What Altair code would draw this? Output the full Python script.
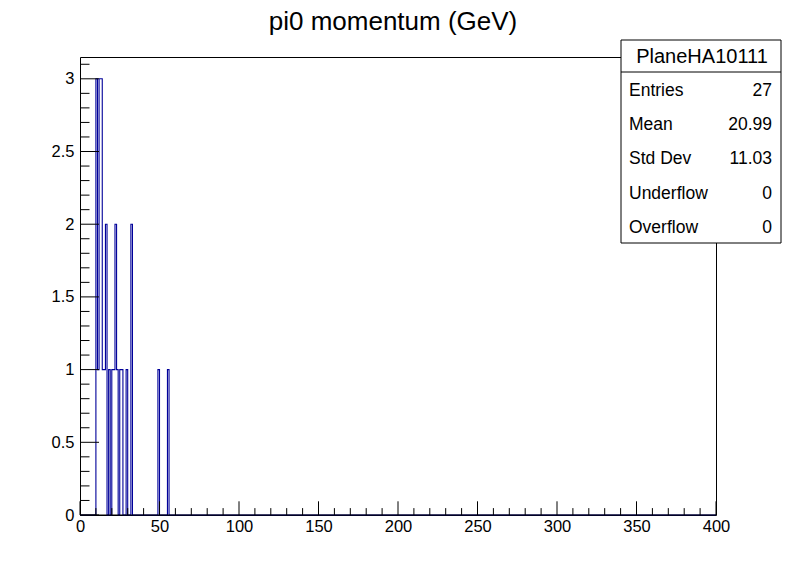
import altair as alt
import pandas as pd

# ---- data ----
title_text = "pi0 momentum (GeV)"
bin_left_edges = [10, 11, 12, 13, 14, 15, 16, 18, 20, 21, 22, 23, 25, 26, 29, 32, 49, 55]
bin_counts = [3, 1, 3, 3, 1, 1, 2, 1, 1, 1, 2, 1, 1, 1, 1, 2, 1, 1]
n_bins = 400
x_min, x_max = 0, 400
y_max = 3.15
x_major = [0, 50, 100, 150, 200, 250, 300, 350, 400]
x_minor = [v for v in range(0, 401, 10) if v % 50 != 0]
y_major = [0, 0.5, 1, 1.5, 2, 2.5, 3]
y_minor = [round(v * 0.1, 1) for v in range(0, 32) if v % 5 != 0]
stat_title = "PlaneHA10111"
stat_labels = ["Entries", "Mean", "Std Dev", "Underflow", "Overflow"]
stat_values = ["27", "20.99", "11.03", "0", "0"]

FONT = "Liberation Sans"
W, H = 636, 458
BLUE = "#000099"

full = [0] * n_bins
for e, c in zip(bin_left_edges, bin_counts):
    full[e] = c
hist_df = pd.DataFrame({"edge": list(range(n_bins)) + [n_bins],
                        "count": full + [full[-1]]})

xscale = alt.Scale(domain=[x_min, x_max], nice=False, zero=False)
yscale = alt.Scale(domain=[0, y_max], nice=False, zero=True)
xaxis = alt.Axis(values=x_major, ticks=False, domain=False, grid=False, title=None,
                 labelFont=FONT, labelFontSize=16.5, labelColor="black",
                 labelPadding=3, labelFlush=False, labelOverlap=False)
yaxis = alt.Axis(values=y_major, ticks=False, domain=False, grid=False, title=None,
                 labelFont=FONT, labelFontSize=16.5, labelColor="black",
                 labelPadding=6, format="~g", labelOverlap=False)

hist = alt.Chart(hist_df).mark_line(interpolate="step-after", color=BLUE,
                                    strokeWidth=1.1).encode(
    x=alt.X("edge:Q", scale=xscale, axis=xaxis),
    y=alt.Y("count:Q", scale=yscale, axis=yaxis),
)

def xticks(vals, length):
    return alt.Chart(pd.DataFrame({"edge": vals})).mark_rule(color="black", strokeWidth=1).encode(
        x=alt.X("edge:Q", scale=xscale, axis=xaxis),
        y=alt.value(H), y2=alt.value(H - length))

def yticks(vals, length):
    return alt.Chart(pd.DataFrame({"count": vals})).mark_rule(color="black", strokeWidth=1).encode(
        y=alt.Y("count:Q", scale=yscale, axis=yaxis),
        x=alt.value(0), x2=alt.value(length))

one = pd.DataFrame({"k": [0]})
bottom_frame = alt.Chart(one).mark_rule(color="black", strokeWidth=1).encode(
    x=alt.value(0), x2=alt.value(W), y=alt.value(H))
title_mark = alt.Chart(pd.DataFrame({"t": [title_text]})).mark_text(
    font=FONT, fontSize=26, color="black", align="center", baseline="alphabetic").encode(
    x=alt.value(313), y=alt.value(-27), text="t:N")
box = alt.Chart(one).mark_rect(fill="white", stroke="black", strokeWidth=1).encode(
    x=alt.value(541), x2=alt.value(701), y=alt.value(-17), y2=alt.value(186))
sep = alt.Chart(one).mark_rule(color="black", strokeWidth=1).encode(
    x=alt.value(541), x2=alt.value(701), y=alt.value(15))
box_title = alt.Chart(pd.DataFrame({"t": [stat_title]})).mark_text(
    font=FONT, fontSize=20, color="black", align="center", baseline="middle").encode(
    x=alt.value(622), y=alt.value(0), text="t:N")

layers = [hist, bottom_frame, xticks(x_major, 13.7), xticks(x_minor, 6.9),
          yticks(y_major, 19), yticks(y_minor, 9.5), title_mark, box, sep, box_title]
for i, (lab, val) in enumerate(zip(stat_labels, stat_values)):
    yy = 33.5 + 34.4 * i
    layers.append(alt.Chart(pd.DataFrame({"t": [lab]})).mark_text(
        font=FONT, fontSize=17.5, color="black", align="left", baseline="middle").encode(
        x=alt.value(549), y=alt.value(yy), text="t:N"))
    layers.append(alt.Chart(pd.DataFrame({"t": [val]})).mark_text(
        font=FONT, fontSize=17.5, color="black", align="right", baseline="middle").encode(
        x=alt.value(692), y=alt.value(yy), text="t:N"))

chart = alt.layer(*layers).properties(
    width=W, height=H,
    autosize=alt.AutoSizeParams(type="none"),
    padding={"left": 80, "top": 57, "right": 80, "bottom": 57},
).configure(background="white").configure_view(stroke="black", strokeWidth=1)

chart.save("out.html", embed_options={"renderer": "svg", "actions": False})
